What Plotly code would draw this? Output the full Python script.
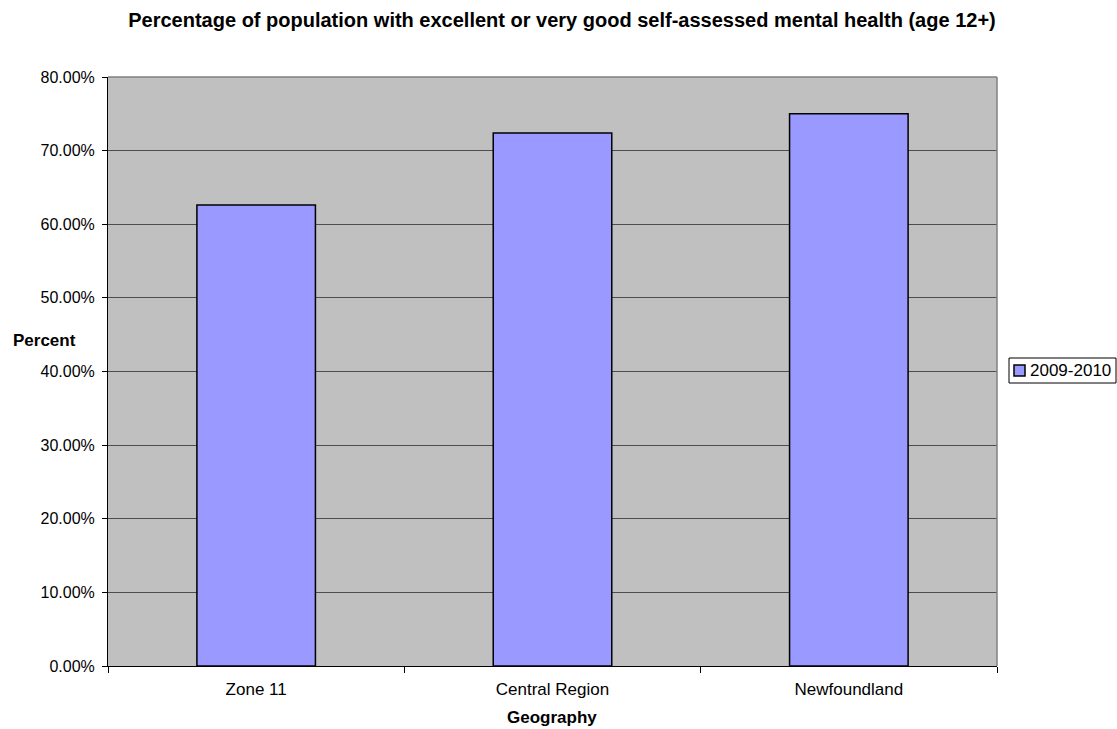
import plotly.graph_objects as go

# Survey results, 2009-2010
regions = ["Zone 11", "Central Region", "Newfoundland"]
pct_2009_2010 = [0.626, 0.724, 0.750]
series_name = "2009-2010"
y_ticks = [0, 0.1, 0.2, 0.3, 0.4, 0.5, 0.6, 0.7, 0.8]

FONT = "Liberation Sans, Arial, sans-serif"
BAR_COLOR = "#9999FF"
W, H = 1117, 729
ML, MR, MT, MB = 108, 120, 77, 63
PW, PH = W - ML - MR, H - MT - MB


def px_to_paper(px, py):
    return (px - ML) / PW, (H - MB - py) / PH


fig = go.Figure()
fig.add_trace(go.Bar(
    x=regions,
    y=pct_2009_2010,
    name=series_name,
    width=0.4,
    marker=dict(color=BAR_COLOR, line=dict(color="#000000", width=1.5)),
    showlegend=False,
))

fig.update_layout(
    width=W,
    height=H,
    margin=dict(l=ML, r=MR, t=MT, b=MB),
    paper_bgcolor="#FFFFFF",
    plot_bgcolor="#C0C0C0",
    font=dict(family=FONT, size=16, color="#000000"),
    title=dict(
        text="<b>Percentage of population with excellent or very good self-assessed mental health (age 12+)</b>",
        x=562 / W, xanchor="center", xref="container",
        y=1 - 20 / H, yanchor="middle", yref="container",
        font=dict(family=FONT, size=20, color="#000000"),
    ),
    xaxis=dict(
        type="category",
        tickson="boundaries",
        ticks="outside",
        ticklen=6,
        tickcolor="#000000",
        ticklabelstandoff=8,
        showline=True,
        linecolor="#000000",
        linewidth=1,
        showgrid=False,
        mirror=False,
        tickfont=dict(family=FONT, size=17),
    ),
    yaxis=dict(
        range=[0, 0.8],
        tickvals=y_ticks,
        tickformat=".2%",
        ticks="outside",
        ticklen=5,
        tickcolor="#000000",
        ticklabelstandoff=4,
        showline=True,
        linecolor="#000000",
        linewidth=1,
        showgrid=True,
        gridcolor="#4D4D4D",
        gridwidth=1,
        zeroline=False,
        tickfont=dict(family=FONT, size=16),
    ),
    bargap=0.6,
)

# Gray frame on the top and right of the plot area
fig.add_shape(type="line", xref="paper", yref="paper", x0=0, x1=1, y0=1, y1=1,
              line=dict(color="#808080", width=1.5))
fig.add_shape(type="line", xref="paper", yref="paper", x0=1, x1=1, y0=0, y1=1,
              line=dict(color="#808080", width=1.5))

# Axis titles
px_, py_ = px_to_paper(44, 340)
fig.add_annotation(text="<b>Percent</b>", xref="paper", yref="paper",
                   x=px_, y=py_, xanchor="center", yanchor="middle",
                   showarrow=False, font=dict(family=FONT, size=17))
gx, gy = px_to_paper(552, 717)
fig.add_annotation(text="<b>Geography</b>", xref="paper", yref="paper",
                   x=gx, y=gy, xanchor="center", yanchor="middle",
                   showarrow=False, font=dict(family=FONT, size=17))

# Legend box with series swatch and name
bx0, by0 = px_to_paper(1009, 383)
bx1, by1 = px_to_paper(1116, 358)
fig.add_shape(type="rect", xref="paper", yref="paper", x0=bx0, x1=bx1, y0=by0, y1=by1,
              line=dict(color="#000000", width=1), fillcolor="#FFFFFF")
sx0, sy0 = px_to_paper(1014, 376)
sx1, sy1 = px_to_paper(1025, 365)
fig.add_shape(type="rect", xref="paper", yref="paper", x0=sx0, x1=sx1, y0=sy0, y1=sy1,
              line=dict(color="#000000", width=1.5), fillcolor=BAR_COLOR)
tx, ty = px_to_paper(1028, 370.5)
fig.add_annotation(text=series_name, xref="paper", yref="paper",
                   x=tx, y=ty, xanchor="left", yanchor="middle",
                   showarrow=False, font=dict(family=FONT, size=17))

fig.write_html("out.html")
